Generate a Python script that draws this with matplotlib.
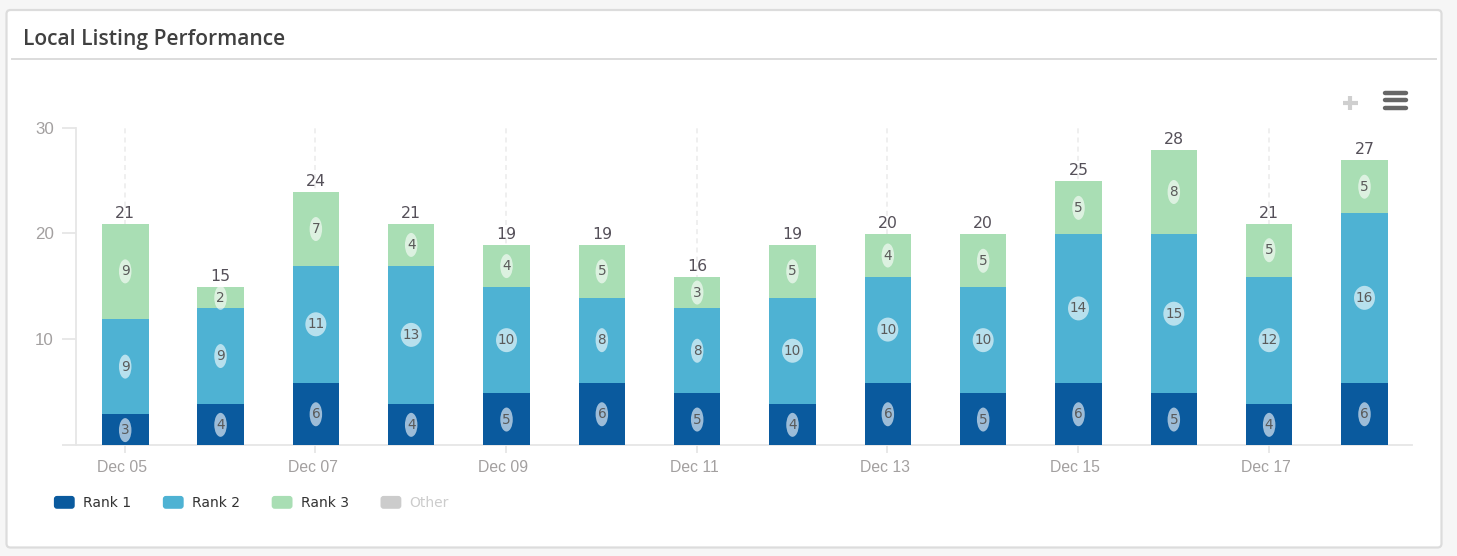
import matplotlib
matplotlib.use("Agg")
import matplotlib.pyplot as plt
import numpy as np
from matplotlib.legend_handler import HandlerPatch
from matplotlib.patches import Ellipse, FancyBboxPatch, Patch
from matplotlib.transforms import Affine2D, IdentityTransform, ScaledTranslation

dates = ["Dec 05", "Dec 06", "Dec 07", "Dec 08", "Dec 09", "Dec 10", "Dec 11",
         "Dec 12", "Dec 13", "Dec 14", "Dec 15", "Dec 16", "Dec 17", "Dec 18"]
rank1 = [3, 4, 6, 4, 5, 6, 5, 4, 6, 5, 6, 5, 4, 6]
rank2 = [9, 9, 11, 13, 10, 8, 8, 10, 10, 10, 14, 15, 12, 16]
rank3 = [9, 2, 7, 4, 4, 5, 3, 5, 4, 5, 5, 8, 5, 5]
series_names = ["Rank 1", "Rank 2", "Rank 3", "Other"]
series_colors = ["#0a5a9e", "#4eb2d3", "#a9deb4", "#cccccc"]
y_ticks = [0, 10, 20, 30]
title = "Local Listing Performance"

W, H = 1457, 556
fig = plt.figure(figsize=(W / 100, H / 100), dpi=100, facecolor="#f6f6f6")

# page furniture in pixel coordinates
bg = fig.add_axes([0, 0, 1, 1], zorder=0)
bg.set_xlim(0, W); bg.set_ylim(H, 0); bg.axis("off")
bg.add_patch(FancyBboxPatch((6.5, 10), 1435, 537.5, boxstyle="round,pad=0,rounding_size=4",
                            fc="white", ec="#dcdcdc", lw=1.6))
bg.plot([12, 1436], [59, 59], color="#dcdcdc", lw=1.4)
bg.text(23, 40, title, fontsize=15.1, family="Open Sans", weight="semibold",
        color="#404040", va="center", ha="left")
for yy in (93, 100, 107.6):
    bg.plot([1385, 1406], [yy, yy], color="#666666", lw=3.2, solid_capstyle="round")
bg.plot([1343, 1358], [102.7, 102.7], color="#cfcfcf", lw=3, solid_capstyle="butt")
bg.plot([1350.4, 1350.4], [95.5, 110], color="#cfcfcf", lw=3, solid_capstyle="butt")

# plot area
L, R, T, B = 76, 1412, 127.5, 445
ax = fig.add_axes([L / W, 1 - B / H, (R - L) / W, (B - T) / H], zorder=1)
ax.patch.set_alpha(0)
step = 95.33
x0 = 124.6
ax.set_xlim((L - x0) / step, (R - x0) / step)
ax.set_ylim(0, 30)
# bars and their labels sit a little off the tick scale in the reference
nudge = Affine2D().translate(0.6, -1)

x = np.arange(len(dates))
r1, r2, r3 = map(np.array, (rank1, rank2, rank3))
w = 46.6 / step
stacks = [(r1, np.zeros_like(r1)), (r2, r1), (r3, r1 + r2)]
for (vals, base), c in zip(stacks, series_colors):
    ax.bar(x, vals, w, bottom=base, color=c, zorder=3, linewidth=0,
           transform=ax.transData + nudge)
    for xi, v, b in zip(x, vals, base):
        ym = b + v / 2
        at = IdentityTransform() + ScaledTranslation(xi, ym, ax.transData + nudge)
        ax.add_patch(Ellipse((0, 0), 21 if v >= 10 else 12.5, 24, transform=at, fc="white",
                             ec="none", alpha=0.6, zorder=3.5, clip_on=False))
        ax.text(xi, ym, str(v), ha="center", va="center", fontsize=9.8,
                family="DejaVu Sans", color="#5a5a5a", zorder=4,
                transform=ax.transData + nudge)

totals = r1 + r2 + r3
for xi, t in zip(x, totals):
    ax.annotate(str(t), (xi, t), xytext=(0.6, 2), textcoords="offset pixels",
                ha="center", va="bottom", fontsize=11.3, color="#555059",
                family="DejaVu Sans", zorder=4)

for s in ("top", "right"):
    ax.spines[s].set_visible(False)
for s in ("left", "bottom"):
    ax.spines[s].set_color("#e6e6e6")
    ax.spines[s].set_linewidth(1.3)
ax.set_axisbelow(True)
ax.set_yticks(y_ticks)
ax.set_yticklabels(["" if v == 0 else str(v) for v in y_ticks],
                   fontsize=12.2, color="#a3a0a0", family="Liberation Sans")
ax.tick_params(axis="y", length=10, width=1.3, color="#e6e6e6", pad=6)
ax.set_xticks(x[::2])
ax.set_xticklabels(dates[::2], fontsize=11.3, color="#a3a0a0", family="Liberation Sans")
ax.tick_params(axis="x", length=5.5, width=1.3, color="#e6e6e6", pad=5.5)
shift = ScaledTranslation(-2.5 / 100, 0, fig.dpi_scale_trans)
for lab in ax.get_xticklabels():
    lab.set_transform(lab.get_transform() + shift)
ax.grid(axis="x", color="#ececec", lw=1.2, ls=(0, (3, 2.5)), zorder=0)
ax.grid(axis="y", visible=False)


class RoundHandler(HandlerPatch):
    def create_artists(self, legend, orig_handle, xdescent, ydescent, width, height,
                       fontsize, trans):
        p = FancyBboxPatch((-xdescent, -ydescent), width, height,
                           boxstyle="round,pad=0,rounding_size=2.2",
                           fc=orig_handle.get_facecolor(), ec="none", transform=trans)
        return [p]


handles = [Patch(fc=c, ec="none", label=n) for n, c in zip(series_names, series_colors)]
leg = fig.legend(handles=handles, loc="center left", bbox_to_anchor=(40 / W, 1 - 503 / H),
                 ncol=4, frameon=False, fontsize=10, handlelength=1.5, handleheight=1.05,
                 handletextpad=0.58, columnspacing=2.3, borderpad=0.5,
                 handler_map={Patch: RoundHandler()})
for t, n in zip(leg.get_texts(), series_names):
    t.set_color("#cccccc" if n == "Other" else "#333333")

fig.savefig("out.png", dpi=100, facecolor=fig.get_facecolor())
